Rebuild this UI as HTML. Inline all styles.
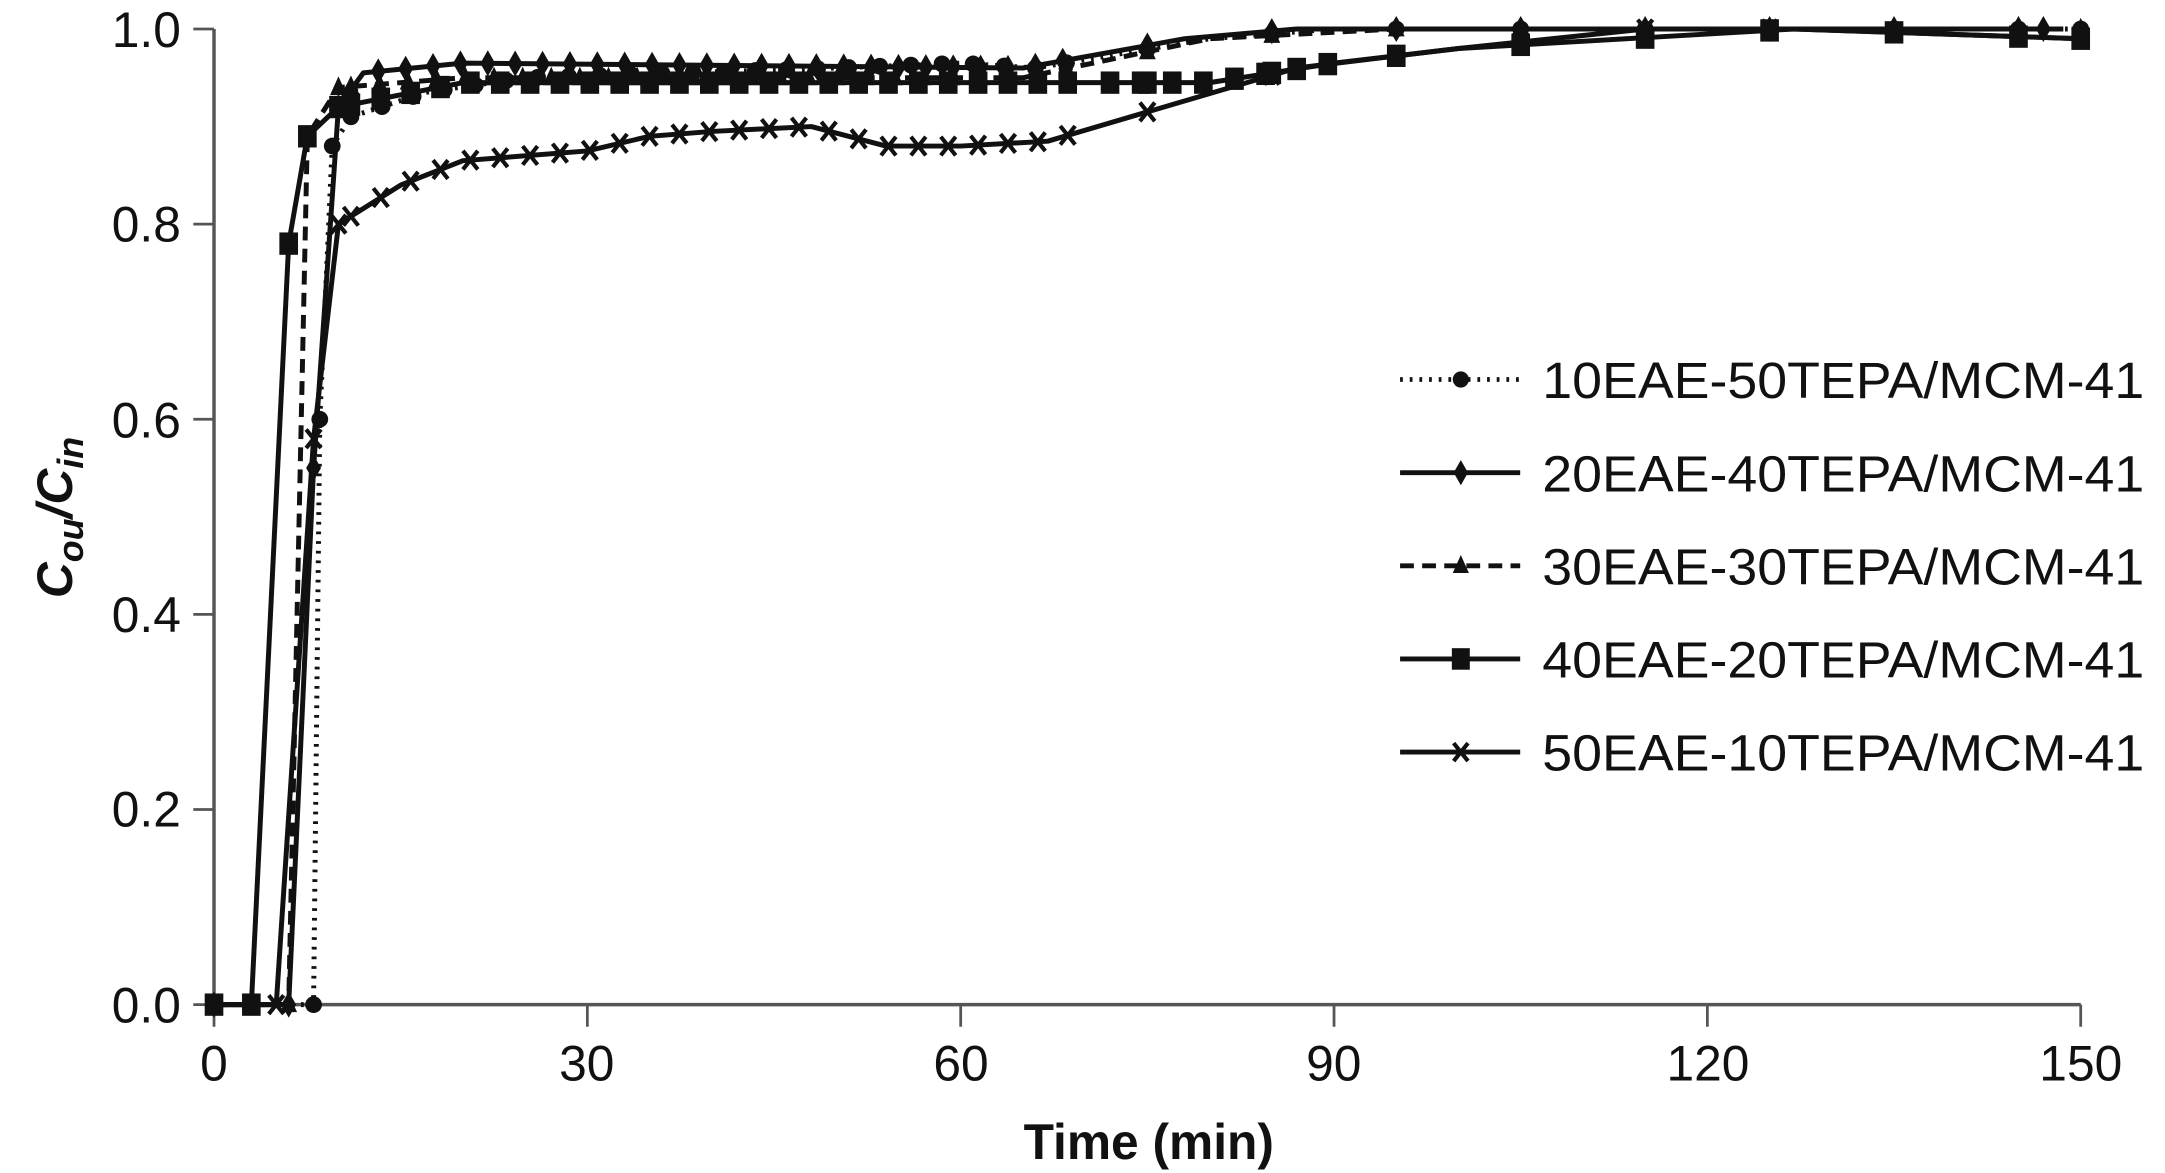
<!DOCTYPE html>
<html><head><meta charset="utf-8"><style>html,body{margin:0;padding:0;background:#fff}svg{display:block}</style></head>
<body>
<svg id="c" width="2165" height="1173" viewBox="0 0 1568 850" preserveAspectRatio="none" xmlns="http://www.w3.org/2000/svg" font-family="Liberation Sans, sans-serif" fill="#111">
<g stroke="#555" stroke-width="2.5" fill="none">
<line x1="155" y1="21" x2="155" y2="728"/>
<line x1="155" y1="728" x2="1507" y2="728"/>
</g>
<g id="ticks" stroke="#555" stroke-width="2"></g>
<g font-size="36" text-anchor="end">
<text x="131" y="34">1.0</text><text x="131" y="175">0.8</text><text x="131" y="317">0.6</text>
<text x="131" y="458">0.4</text><text x="131" y="599">0.2</text><text x="131" y="741">0.0</text>
</g>
<g font-size="36" text-anchor="middle">
<text x="155" y="783">0</text><text x="425" y="783">30</text><text x="696" y="783">60</text>
<text x="966" y="783">90</text><text x="1237" y="783">120</text><text x="1507" y="783">150</text>
</g>
<text x="832" y="840" font-size="36" font-weight="bold" text-anchor="middle">Time (min)</text>
<text transform="translate(52,375) rotate(-90)" font-size="36" font-weight="bold" font-style="italic" text-anchor="middle">C<tspan font-size="26" dy="8">ou</tspan><tspan dy="-8">/C</tspan><tspan font-size="26" dy="8">in</tspan></text>
<g id="plot"></g>
<g id="leg" font-size="37"></g>
</svg>
<script>
var X=function(t){return 155+t*9.013},Y=function(v){return 728-v*707};
var ns="http://www.w3.org/2000/svg";
function el(p,n,a){var e=document.createElementNS(ns,n);for(var k in a)e.setAttribute(k,a[k]);p.appendChild(e);return e;}
var tk=document.getElementById('ticks');
[0,30,60,90,120,150].forEach(function(t){el(tk,'line',{x1:X(t),x2:X(t),y1:728,y2:744});});
[0,0.2,0.4,0.6,0.8,1].forEach(function(v){el(tk,'line',{x1:140,x2:155,y1:Y(v),y2:Y(v)});});
var S=[
 {d:[[0,0],[8,0],[8.5,0.6],[9.5,0.88],[11,0.91],[17,0.935],[25,0.95],[50,0.96],[60,0.965],[66,0.96],[80,0.99],[90,1],[117,1],[150,1]],dash:'2,5',m:'c',step:2.5},
 {d:[[0,0],[6,0],[8,0.55],[10,0.92],[12,0.955],[20,0.965],[65,0.96],[78,0.99],[87,1],[147,1]],dash:'',m:'d',step:2.2},
 {d:[[0,0],[6,0],[7.5,0.89],[10,0.94],[20,0.95],[65,0.95],[80,0.99],[95,1],[138,1],[150,1]],dash:'10,6',m:'t',step:2.3},
 {d:[[0,0],[3,0],[6,0.78],[7.5,0.89],[10,0.92],[20,0.945],[80,0.945],[90,0.965],[100,0.98],[127,1],[150,0.99]],dash:'',m:'s',step:2.4},
 {d:[[0,0],[5,0],[8,0.58],[10,0.80],[15,0.84],[20,0.865],[30,0.875],[35,0.89],[40,0.895],[48,0.9],[54,0.88],[60,0.88],[67,0.885],[87,0.96],[100,0.98],[115,1],[127,1],[150,0.99]],dash:'',m:'x',step:2.4}
];
var P=document.getElementById('plot');
function interp(d,t){for(var i=1;i<d.length;i++){if(t<=d[i][0]){var a=d[i-1],b=d[i];return a[1]+(b[1]-a[1])*(t-a[0])/(b[0]-a[0]);}}return d[d.length-1][1];}
function marker(g,m,x,y,s){s=s||1;
 if(m=='c')el(g,'circle',{cx:x,cy:y,r:4.5*s});
 else if(m=='d')el(g,'polygon',{points:(x)+','+(y-7*s)+' '+(x+4*s)+','+y+' '+x+','+(y+7*s)+' '+(x-4*s)+','+y});
 else if(m=='t')el(g,'polygon',{points:x+','+(y-6*s)+' '+(x+4.5*s)+','+(y+4*s)+' '+(x-4.5*s)+','+(y+4*s)});
 else if(m=='s')el(g,'rect',{x:x-5*s,y:y-6*s,width:10*s,height:12*s});
 else {el(g,'path',{d:'M'+(x-4*s)+','+(y-5*s)+'L'+(x+4*s)+','+(y+5*s)+'M'+(x+4*s)+','+(y-5*s)+'L'+(x-4*s)+','+(y+5*s),stroke:'#111','stroke-width':3});}
}
var MS=1.35;
S.forEach(function(s){
 var pts=s.d.map(function(p){return X(p[0])+','+Y(p[1]);}).join(' ');
 var a={points:pts,fill:'none',stroke:'#111','stroke-width':3.6,'stroke-linejoin':'round'};
 if(s.dash)a['stroke-dasharray']=s.dash;
 el(P,'polyline',a);
 var g=el(P,'g',{fill:'#111'});
 s.d.forEach(function(p){if(p[0]<=10)marker(g,s.m,X(p[0]),Y(p[1]),MS);});
 var end=s.d[s.d.length-1][0];
 for(var t=11;t<=Math.min(end,70);t+=s.step)marker(g,s.m,X(t),Y(interp(s.d,t)),MS);
 if(s.m=='s'){for(var t=72;t<=90;t+=2.5)marker(g,s.m,X(t),Y(interp(s.d,t)),MS);}
 for(var t=75;t<=end;t+=10)marker(g,s.m,X(t),Y(interp(s.d,t)),MS);
 marker(g,s.m,X(end),Y(s.d[s.d.length-1][1]),MS);
});
var L=document.getElementById('leg');
var names=['10EAE-50TEPA/MCM-41','20EAE-40TEPA/MCM-41','30EAE-30TEPA/MCM-41','40EAE-20TEPA/MCM-41','50EAE-10TEPA/MCM-41'];
names.forEach(function(n,i){var y=275+i*67.5;
 var a={x1:1014,x2:1101,y1:y,y2:y,stroke:'#111','stroke-width':3.5};if(S[i].dash)a['stroke-dasharray']=S[i].dash;
 el(L,'line',a);var g=el(L,'g',{fill:'#111'});marker(g,S[i].m,1058,y,1.3);
 var t=el(L,'text',{x:1117,y:y+13.5,textLength:436,lengthAdjust:'spacingAndGlyphs'});t.textContent=n;});
</script>
</body></html>
